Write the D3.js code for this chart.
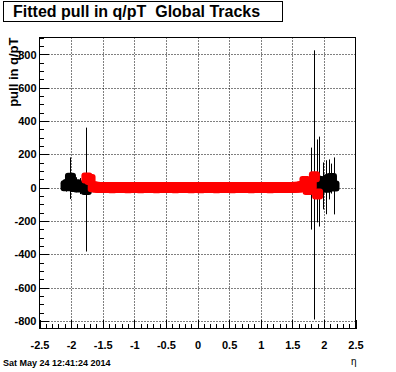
<!DOCTYPE html>
<html><head><meta charset="utf-8">
<script src="https://cdn.jsdelivr.net/npm/d3@7"></script>
<style>
html,body{margin:0;padding:0;background:#fff;}
svg{display:block;}
text{font-family:"Liberation Sans",Arial,Helvetica,sans-serif;white-space:pre;}
</style>
</head><body>
<script>
// ---- data ----
const titleText = "Fitted pull in q/pT  Global Tracks";
const yTitle = "pull in q/pT";
const xTitle = "\u03b7";
const dateText = "Sat May 24 12:41:24 2014";
const xTicks = [-2.5,-2,-1.5,-1,-0.5,0,0.5,1,1.5,2,2.5];
const xTickLabels = ["-2.5","-2","-1.5","-1","-0.5","0","0.5","1","1.5","2","2.5"];
const yTicks = [-800,-600,-400,-200,0,200,400,600,800];
const yTickLabels = ["-800","-600","-400","-200","0","200","400","600","800"];
const xDomain = [-2.5, 2.5];
const yDomain = [-845, 902];

// black series (eta, value, error)
const blackEta = [-2.08,-2.05,-2.01,-1.98,-1.95,-1.92,-1.89,-1.86,-1.76,
                  1.80,1.84,1.89,1.93,1.99,2.04,2.08,2.12,2.16];
const blackVal = [12,20,57,15,8,18,5,10,-11,
                  -5,17,41,37,11,3,50,55,11];
const blackErr = [35,30,125,40,25,45,30,48,372,
                  246,808,249,270,141,162,120,90,171];

// red series (eta, value, error)
const redEta = [-1.75,-1.70,-1.65,-1.60,-1.55,-1.50,-1.45,-1.40,-1.35,-1.30,-1.25,-1.20,-1.15,-1.10,-1.05,-1.00,
  -0.95,-0.90,-0.85,-0.80,-0.75,-0.70,-0.65,-0.60,-0.55,-0.50,-0.45,-0.40,-0.35,-0.30,-0.25,-0.20,-0.15,-0.10,-0.05,
  0.00,0.05,0.10,0.15,0.20,0.25,0.30,0.35,0.40,0.45,0.50,0.55,0.60,0.65,0.70,0.75,0.80,0.85,0.90,0.95,1.00,
  1.05,1.10,1.15,1.20,1.25,1.30,1.35,1.40,1.45,1.50,1.55,1.60,1.65,1.70,1.75,1.80,1.85,1.90];
const redVal = [58,50,6,3,2,1,2,1,0,1,2,1,1,0,1,2,
  1,0,1,1,2,1,0,1,1,2,1,1,0,1,1,2,1,0,1,
  1,0,1,2,1,1,0,1,1,2,1,0,1,1,1,2,1,0,1,1,2,
  1,1,0,1,2,1,1,2,1,2,3,3,8,37,-11,17,66,-38];
const redErr = [20,18,6,4,3,3,3,3,3,3,3,3,3,3,3,3,
  3,3,3,3,3,3,3,3,3,3,3,3,3,3,3,3,3,3,3,
  3,3,3,3,3,3,3,3,3,3,3,3,3,3,3,3,3,3,3,3,3,
  3,3,3,3,3,3,3,3,3,3,3,4,6,15,18,16,20,22];

// ---- drawing ----
const W = 396, H = 372;
const L = 39.5, R = 355.5, T = 37.5, B = 328.5;
const svg = d3.select("body").append("svg").attr("width", W).attr("height", H);
svg.append("rect").attr("width", W).attr("height", H).attr("fill", "#fff");

const x = d3.scaleLinear().domain(xDomain).range([L, R]);
const y = d3.scaleLinear().domain(yDomain).range([B, T]);

// grid
const grid = svg.append("g").attr("stroke", "#000").attr("stroke-width", 1).attr("stroke-dasharray", "1,2");
grid.selectAll(".gx").data(xTicks.filter(v => v > xDomain[0] && v < xDomain[1])).join("line")
  .attr("x1", d => Math.round(x(d)) + 0.5).attr("x2", d => Math.round(x(d)) + 0.5)
  .attr("y1", T).attr("y2", B);
grid.selectAll(".gy").data(yTicks).join("line")
  .attr("y1", d => Math.round(y(d)) + 0.5).attr("y2", d => Math.round(y(d)) + 0.5)
  .attr("x1", L).attr("x2", R);

// axes
const xMinor = d3.range(-25, 26).map(v => v / 10);
const yMinor = d3.range(-16, 19).map(v => v * 50).filter(v => v >= yDomain[0] && v <= yDomain[1]);

const xAxisMinor = d3.axisBottom(x).tickValues(xMinor).tickSizeInner(-4.5).tickSizeOuter(0).tickFormat("");
const xAxisMajor = d3.axisBottom(x).tickValues(xTicks).tickSizeInner(-9).tickSizeOuter(0).tickPadding(13)
  .tickFormat((d, i) => xTickLabels[i]);
const yAxisMinor = d3.axisLeft(y).tickValues(yMinor).tickSizeInner(-4.75).tickSizeOuter(0).tickFormat("");
const yAxisMajor = d3.axisLeft(y).tickValues(yTicks).tickSizeInner(-9.5).tickSizeOuter(0).tickPadding(3)
  .tickFormat((d, i) => yTickLabels[i]);

function styleAxis(g) {
  g.select(".domain").remove();
  g.selectAll("line").attr("stroke", "#000").attr("shape-rendering", "crispEdges");
  g.selectAll("text").attr("fill", "#000").attr("font-size", 11).attr("font-weight", "bold")
    .attr("font-family", '"Liberation Sans",Arial,sans-serif');
}
svg.append("g").attr("transform", `translate(0,${B})`).call(xAxisMinor).call(styleAxis);
svg.append("g").attr("transform", `translate(0,${B})`).call(xAxisMajor).call(styleAxis);
svg.append("g").attr("transform", `translate(${L},0)`).call(yAxisMinor).call(styleAxis);
svg.append("g").attr("transform", `translate(${L},0)`).call(yAxisMajor).call(styleAxis);

// frame
svg.append("rect").attr("x", L).attr("y", T).attr("width", R - L).attr("height", B - T)
  .attr("fill", "none").attr("stroke", "#000").attr("stroke-width", 1);

// clip
svg.append("clipPath").attr("id", "clip").append("rect")
  .attr("x", L).attr("y", T).attr("width", R - L).attr("height", B - T);
const plot = svg.append("g").attr("clip-path", "url(#clip)");

const M = 11; // marker size
function drawSeries(etas, vals, errs, color) {
  const pts = etas.map((e, i) => ({e, v: vals[i], s: errs[i]}));
  const g = plot.append("g");
  g.selectAll("line").data(pts).join("line")
    .attr("x1", d => Math.round(x(d.e)) + 0.5).attr("x2", d => Math.round(x(d.e)) + 0.5)
    .attr("y1", d => y(d.v + d.s)).attr("y2", d => y(d.v - d.s))
    .attr("stroke", "#000").attr("stroke-width", 1);
  g.selectAll("rect").data(pts).join("rect")
    .attr("x", d => x(d.e) - M / 2).attr("y", d => y(d.v) - M / 2)
    .attr("width", M).attr("height", M).attr("rx", 3).attr("ry", 3)
    .attr("fill", color);
}
drawSeries(blackEta, blackVal, blackErr, "#000");
drawSeries(redEta, redVal, redErr, "#ff0000");

// title box
svg.append("rect").attr("x", 3.5).attr("y", 1.5).attr("width", 279).attr("height", 20)
  .attr("fill", "#fff").attr("stroke", "#000");
svg.append("text").attr("x", 13).attr("y", 17).attr("font-size", 16).attr("font-weight", "bold")
  .attr("xml:space", "preserve").text(titleText);

// axis titles
svg.append("text").attr("transform", `translate(18,${T}) rotate(-90)`).attr("text-anchor", "end")
  .attr("font-size", 13).attr("font-weight", "bold").text(yTitle);
svg.append("text").attr("x", R + 1).attr("y", 365).attr("text-anchor", "end")
  .attr("font-size", 10).attr("font-family", '"DejaVu Sans",sans-serif').text(xTitle);

// date
svg.append("text").attr("x", 3).attr("y", 366).attr("font-size", 9).attr("font-weight", "bold").text(dateText);
</script>
</body></html>
